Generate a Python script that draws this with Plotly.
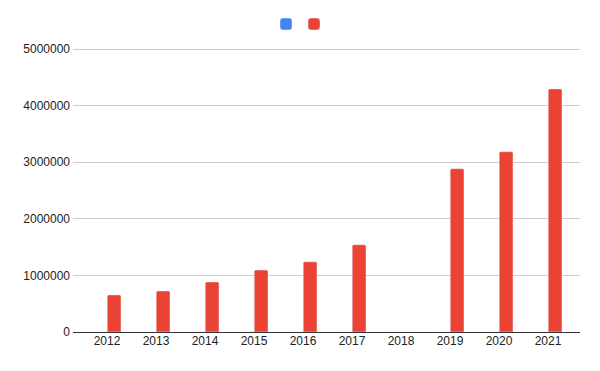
import plotly.graph_objects as go

years = ["2012", "2013", "2014", "2015", "2016", "2017", "2018", "2019", "2020", "2021"]
series_a = [0, 0, 0, 0, 0, 0, 0, 0, 0, 0]
series_b = [655000, 725000, 885000, 1095000, 1240000, 1540000, 0, 2885000, 3185000, 4295000]
y_ticks = [0, 1000000, 2000000, 3000000, 4000000, 5000000]

# page body has an 8px margin; figure sized to fit the 600x371 window
W, H = 592, 363

fig = go.Figure()
fig.add_trace(go.Bar(x=years, y=series_a, name="", marker_color="#4285F4", legend="legend"))
fig.add_trace(go.Bar(x=years, y=series_b, name="", marker_color="#EA4335", legend="legend2"))

leg_common = dict(orientation="h", yref="container", xref="container", y=1 - 16 / H,
                  yanchor="middle", xanchor="left", itemwidth=30,
                  bgcolor="rgba(0,0,0,0)", font=dict(size=12))

fig.update_layout(
    width=W, height=H,
    margin=dict(l=65, r=20, t=40, b=39, autoexpand=False),
    paper_bgcolor="white", plot_bgcolor="white",
    font=dict(family="Arial, Liberation Sans, sans-serif", size=12, color="#222222"),
    barmode="group", bargap=0.42, bargroupgap=0.03,
    barcornerradius=1.5,
    showlegend=True,
    legend=dict(leg_common, x=258 / W),
    legend2=dict(leg_common, x=286 / W),
    xaxis=dict(type="category", range=[-0.694, 9.653], showgrid=False,
               showline=False, ticks="", tickfont=dict(size=12, color="#222222")),
    yaxis=dict(range=[0, 5018000], tickvals=y_ticks, tickformat="d",
               showgrid=True, gridcolor="#cccccc", gridwidth=1,
               zeroline=True, zerolinecolor="#333333", zerolinewidth=1,
               showline=False, ticks="", ticklabelstandoff=2,
               tickfont=dict(size=12, color="#222222")),
)

fig.write_html("out.html")
